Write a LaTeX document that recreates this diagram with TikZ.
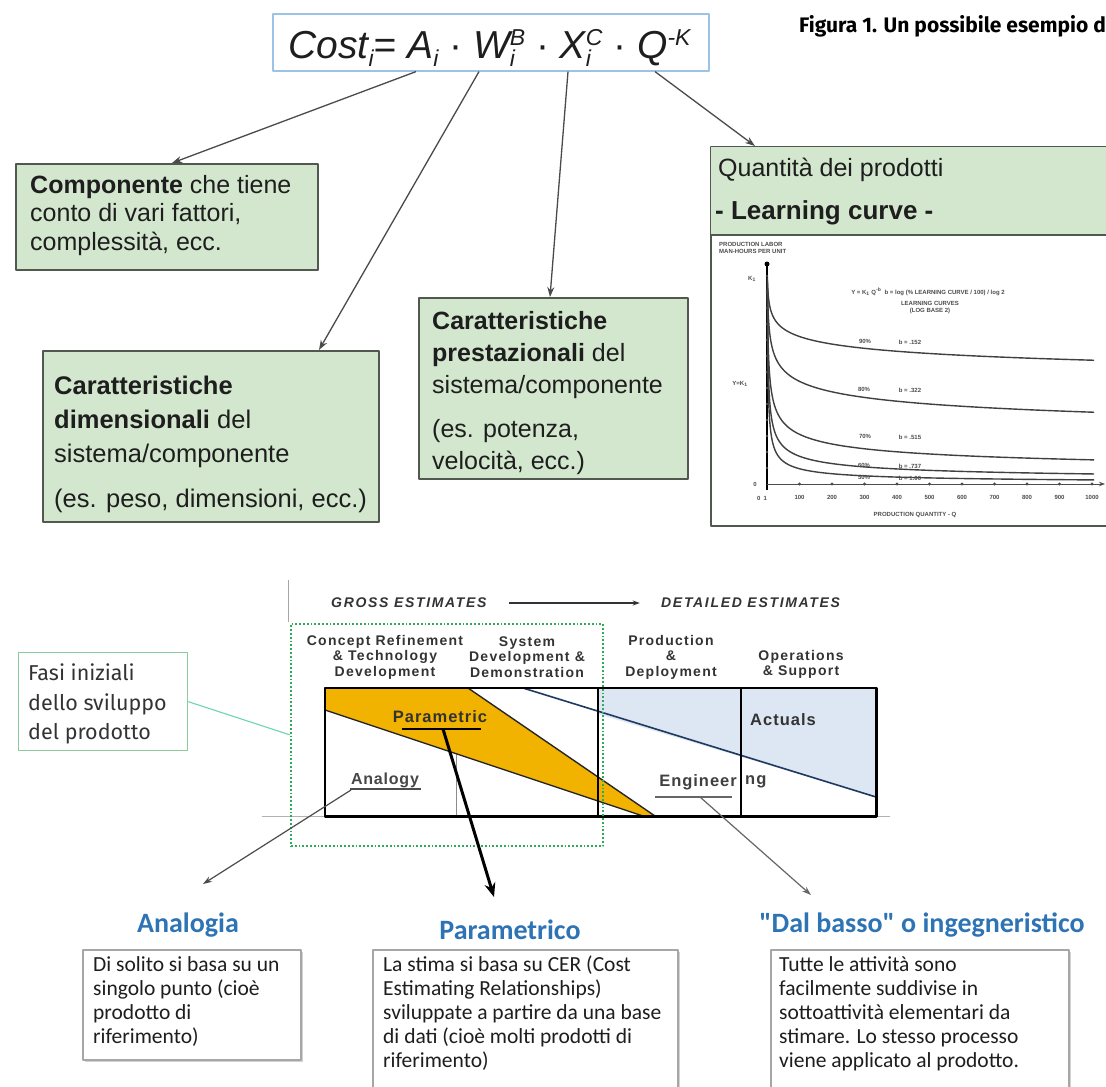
\documentclass[tikz,border=0pt]{standalone}
\usepackage{fontspec}
\setmainfont{Liberation Sans}
\newfontfamily\fira{Fira Sans}
\newfontfamily\carl{Carlito}
\usetikzlibrary{arrows.meta,calc,shadows}
\definecolor{boxgreen}{HTML}{D3E7CE}
\definecolor{gborder}{HTML}{505850}
\definecolor{conngray}{HTML}{4A4A4A}
\definecolor{fblue}{HTML}{9CC2E5}
\definecolor{orangefill}{HTML}{F2B200}
\definecolor{lightblue}{HTML}{DDE7F3}
\definecolor{navy}{HTML}{1F3A60}
\definecolor{dotgreen}{HTML}{2DAA5A}
\definecolor{fasigreen}{HTML}{8ACB9A}
\definecolor{headblue}{HTML}{2E74B5}
\definecolor{boxgray}{HTML}{A6A6A6}
\definecolor{textdark}{HTML}{1E1E1E}
\definecolor{phasetext}{HTML}{333333}
\newcommand\fsub[1]{\raisebox{-0.22em}{\fontsize{23}{23}\selectfont\itshape #1}}
\newcommand\fsup[1]{\raisebox{0.32em}{\fontsize{23}{23}\selectfont\itshape #1}}
\begin{document}
\begin{tikzpicture}[x=1pt,y=-1pt,line join=round,
  gbox/.style={draw=gborder,fill=boxgreen,line width=1.6pt,inner sep=0pt,anchor=north west},
  btext/.style={anchor=north west,align=left,inner sep=0pt,text=textdark},
  conn/.style={draw=conngray,line width=1.3pt,-{Stealth[length=10pt,width=7pt]}},
  phase/.style={align=center,inner sep=0pt,text=phasetext,font=\fontsize{14}{15.5}\selectfont\bfseries\addfontfeature{LetterSpace=9}},
  estim/.style={inner sep=0pt,text=phasetext,font=\fontsize{14}{14}\selectfont\bfseries\itshape\addfontfeature{LetterSpace=12}},
  chlabel/.style={inner sep=0pt,font=\fontsize{16.5}{16.5}\selectfont\bfseries\addfontfeature{LetterSpace=6}},
  wbox/.style={draw=boxgray,fill=white,line width=1.5pt,inner sep=0pt,anchor=north west,
     drop shadow={opacity=0.35,shadow xshift=2.5pt,shadow yshift=-2.5pt}},
  wtext/.style={anchor=north west,align=left,inner sep=0pt,text=textdark,font=\carl\fontsize{21.5}{24}\selectfont},
  heading/.style={inner sep=0pt,text=headblue,font=\carl\bfseries\fontsize{28}{28}\selectfont},
  curve/.style={draw=black!75,line width=1.4pt},
  tiny/.style={inner sep=0pt,text=black!70,font=\fontsize{6}{7}\selectfont\bfseries}]
\useasboundingbox (0,0) rectangle (1106,1087);
\fill[white] (0,0) rectangle (1106,1087);

% ---------- title ----------
\node[anchor=base west,inner sep=0pt,font=\fira\bfseries\fontsize{21}{21}\selectfont] (title) at (799,32) {Figura 1. Un possibile esempio d};

% ---------- formula ----------
\node[draw=fblue,line width=1.6pt,fill=white,minimum width=436,minimum height=57,anchor=north west,inner sep=0pt] (formula) at (272,13) {};
\node[anchor=base,inner sep=0pt,font=\fontsize{39}{39}\selectfont\itshape,text=textdark] (ftext) at (489.5,58)
  {Cost\fsub{i}= A\fsub{i} {\upshape·} W\rlap{\fsub{i}}\fsup{B} {\upshape·} X\rlap{\fsub{i}}\fsup{C} {\upshape·} Q\fsup{-K}};

% ---------- green boxes ----------
\node[gbox,minimum width=302,minimum height=106] (comp) at (15,163) {};
\node[btext,font=\fontsize{25}{28.5}\selectfont] (comptext) at (30,175) {\textbf{Componente} che tiene\\conto di vari fattori,\\complessità, ecc.};

\node[gbox,minimum width=336,minimum height=171] (dim) at (42,350) {};
\node[btext,font=\fontsize{25.5}{34}\selectfont] (dimtext) at (54,375.5) {\textbf{Caratteristiche}\\\textbf{dimensionali} del\\sistema/componente\\[11pt](es. peso, dimensioni, ecc.)};

\node[gbox,minimum width=269,minimum height=181] (pre) at (418,297) {};
\node[btext,font=\fontsize{25}{32}\selectfont] (pretext) at (432,311) {\textbf{Caratteristiche}\\\textbf{prestazionali} del\\sistema/componente\\[12pt](es. potenza,\\velocità, ecc.)};

\node[gbox,fill=white,minimum width=420,minimum height=379] (qty) at (710,146) {};
\fill[boxgreen] (711,147) rectangle (1120,235);
\draw[gborder,line width=1.6pt] (710,235) -- (1120,235);
\node[btext,font=\fontsize{25}{25}\selectfont,anchor=west] (qtytext) at (718,170) {Quantità dei prodotti};
\node[btext,font=\fontsize{26}{26}\selectfont\bfseries,anchor=west] (lctext) at (715,213) {- Learning curve -};

% ---------- learning curve chart ----------
\node[tiny,anchor=north west,align=left] (ylab) at (719,242) {PRODUCTION LABOR\\MAN-HOURS PER UNIT};
\coordinate (O) at (767,484);
\draw[black,line width=2.2pt] (767,490) -- (767,266);
\fill[black] (767,264) circle (2.5pt);
\draw[black!70,line width=1pt,-{Stealth[length=6pt]}] (767,484) -- (1105,484);
\foreach \k in {1,...,10} {
  \fill[black!70] ({767+32.5*\k},484) circle (1.6pt);
  \pgfmathtruncatemacro{\lab}{100*\k}
  \node[tiny] at ({767+32.5*\k},497) {\lab};
}
\foreach \k in {1,...,13} \fill[black!70] (767,{484-16*\k}) circle (1.4pt);
\node[tiny] at (762,498) {0 \ 1};
\node[tiny] at (752,279) {K\textsubscript{1}};
\node[tiny] at (740,384) {Y=K\textsubscript{1}};
\node[tiny] at (755,484) {0};
\foreach \b in {0.076,0.155,0.313,0.44,0.57}
  \draw[curve] plot[domain=0.15:6.9,samples=80,smooth] ({767+0.33*exp(\x)},{484-209*exp(-\b*\x)});
\node[tiny] at (928,292) {Y = K\textsubscript{1} Q\textsuperscript{-b} \ b = log (\% LEARNING CURVE / 100) / log 2};
\node[tiny,align=center] at (930,308) {LEARNING CURVES\\(LOG BASE 2)};
\node[tiny] at (865,341) {90\%};  \node[tiny] at (910,342) {b = .152};
\node[tiny] at (864,389) {80\%};  \node[tiny] at (910,390) {b = .322};
\node[tiny] at (865,436) {70\%};  \node[tiny] at (910,437) {b = .515};
\node[tiny] at (864,465) {60\%};  \node[tiny] at (910,466) {b = .737};
\node[tiny] at (864,477) {50\%};  \node[tiny] at (910,478) {b = 1.00};
\node[tiny] (xlab) at (915,515) {PRODUCTION QUANTITY - Q};

% ---------- top connectors ----------
\coordinate (fA) at ($(formula.south west)+(144,0)$);
\coordinate (fW) at ($(formula.south west)+(207,0)$);
\coordinate (fX) at ($(formula.south west)+(296,0)$);
\coordinate (fQ) at ($(formula.south west)+(383,0)$);
\coordinate (cA) at ($(comp.north west)+(157,0)$);
\coordinate (cW) at ($(dim.north west)+(277,0)$);
\coordinate (cX) at ($(pre.north west)+(132,0)$);
\coordinate (cQ) at ($(qty.north west)+(45,0)$);
\draw[conn] (fA) -- (cA);
\draw[conn] (fW) -- (cW);
\draw[conn] (fX) -- (cX);
\draw[conn] (fQ) -- (cQ);

% ---------- estimating chart ----------
\draw[black!35,line width=0.8pt] (288,580) -- (288,622);
\node[estim,anchor=west] (gross) at (331,603) {GROSS ESTIMATES};
\node[estim,anchor=west] (detail) at (661,603) {DETAILED ESTIMATES};
\draw[black!80,line width=1.6pt,-{Stealth[length=7pt,width=5pt]}] (gross.east) ++(22,0) -- ++(131,0) coordinate (arrE);

\node[phase] (ph1) at (385,657) {Concept Refinement\\\& Technology\\Development};
\node[phase] (ph2) at (527,657) {System\\Development \&\\Demonstration};
\node[phase] (ph3) at (671,657) {Production\\\&\\Deployment};
\node[phase] (ph4) at (801,664.5) {Operations\\\& Support};

\node[fill=white,minimum width=551,minimum height=128,anchor=north west,inner sep=0pt] (chart) at (325,688) {};
\draw[black!30,line width=0.8pt] (262,816) -- (890,816);
\fill[lightblue] (598,688) -- (876,688) -- (876,797) -- (598,714) -- cycle;
\draw[black!45,line width=1pt] (456,688) -- (456,816);
\draw[navy,line width=1.6pt] (523,688) -- (876,797);
\filldraw[fill=orangefill,draw=black!85,line width=1.4pt] (325,688) -- (468,688) -- (655,816) -- (643,816) -- (325,710) -- cycle;
\draw[black,line width=2.4pt] (598,688) -- (598,816);
\draw[black,line width=2.4pt] (741,688) -- (741,816);
\draw[black,line width=2.4pt] (chart.north west) rectangle (chart.south east);

\node[dotted,draw=dotgreen,line width=1.8pt,minimum width=312,minimum height=222,anchor=north west,inner sep=0pt] (early) at (290,623) {};

\node[chlabel,text=black!80] (param) at (440,717) {Parametric};
\draw[black,line width=2pt] (402,729) -- (481,729);
\node[chlabel,text=black!80] (actuals) at (783,720) {Actuals};
\node[chlabel,text=black!72,font=\fontsize{16}{16}\selectfont\bfseries\addfontfeature{LetterSpace=5}] (analogy) at (385,780) {Analogy};
\draw[black!70,line width=1.3pt] (350,789) -- (421,789);
\node[chlabel,text=black!75,anchor=east] (engin) at (737,782) {Engineer};
\node[chlabel,text=black!75,anchor=west] (engin2) at (745,782) {ng};
\draw[black!60,line width=2pt] (655,797) -- (732,797);

% ---------- fasi box ----------
\node[draw=fasigreen,line width=1.3pt,fill=white,minimum width=169,minimum height=98,anchor=north west,inner sep=0pt] (fasi) at (18,652) {};
\node[anchor=north west,align=left,inner sep=0pt,font=\fira\fontsize{21.5}{29.5}\selectfont,text=black!80] (fasitext) at (28,664) {Fasi iniziali\\dello sviluppo\\del prodotto};
\draw[fasigreen!80!cyan,line width=1.1pt] (fasi.east) -- ($(early.north west)!0.5!(early.south west)$);

% ---------- bottom headings ----------
\node[heading] (hA) at (188,925) {Analogia};
\node[heading] (hP) at (510,930) {Parametrico};
\node[heading] (hE) at (922,925) {"Dal basso" o ingegneristico};

% ---------- bottom connectors ----------
\coordinate (anS) at (351,790);
\coordinate (anE) at (203,884);
\draw[draw=black!70,line width=1.2pt,-{Stealth[length=9pt,width=6pt]}] (anS) -- (anE);
\coordinate (paS) at (443,729);
\coordinate (paE) at (494,897);
\draw[draw=black,line width=3pt,-{Stealth[length=14pt,width=11pt]}] (paS) -- (paE);
\coordinate (enS) at (700,797);
\coordinate (enE) at (811,895);
\draw[draw=black!60,line width=1.2pt,-{Stealth[length=9pt,width=6pt]}] (enS) -- (enE);

% ---------- bottom boxes ----------
\node[wbox,minimum width=218,minimum height=110] (bA) at (82,949) {};
\node[wtext] (tA) at (93,956) {Di solito si basa su un\\singolo punto (cioè\\prodotto di\\riferimento)};
\node[wbox,minimum width=305,minimum height=160] (bP) at (372,949) {};
\node[wtext] (tP) at (383,956) {La stima si basa su CER (Cost\\Estimating Relationships)\\sviluppate a partire da una base\\di dati (cioè molti prodotti di\\riferimento)};
\node[wbox,minimum width=298,minimum height=160] (bE) at (770,949) {};
\node[wtext] (tE) at (779,956) {Tutte le attività sono\\facilmente suddivise in\\sottoattività elementari da\\stimare. Lo stesso processo\\viene applicato al prodotto.};
\end{tikzpicture}
\end{document}
